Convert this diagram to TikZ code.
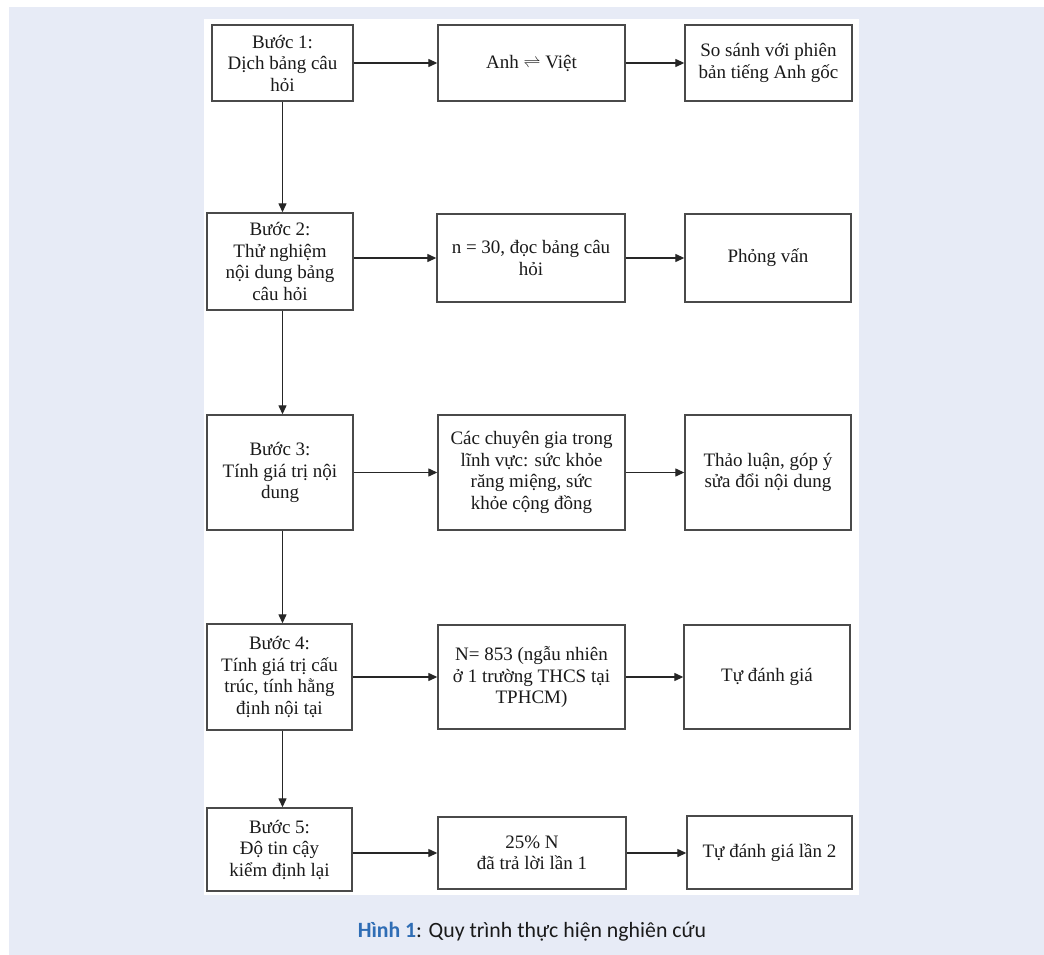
\documentclass[tikz,border=0pt]{standalone}
\usepackage{fontspec}
\setmainfont{Liberation Serif}
\newfontfamily\capfont{Carlito}
\usetikzlibrary{arrows.meta}
\definecolor{bgblue}{HTML}{E7EBF6}
\definecolor{capblue}{HTML}{2F6DB5}
\definecolor{boxline}{HTML}{4A4A4A}
\definecolor{txt}{HTML}{1A1A1A}
\tikzset{
  box/.style={draw=boxline, line width=1.4pt, fill=white, align=center, inner sep=0pt,
    text=txt, font=\fontsize{19}{21.5}\selectfont},
  arr/.style={draw=black!85, line width=1.3pt, -{Triangle[length=9pt,width=8pt]}}
}
\begin{document}
\begin{tikzpicture}[x=1pt,y=-1pt]
\fill[white] (0,0) rectangle (1044,955);
\fill[bgblue] (9,7) rectangle (1044,955);
\fill[white] (204,19) rectangle (859,895);
\useasboundingbox (0,0) rectangle (1044,955);

% Row 1
\node[box, minimum width=141pt, minimum height=76pt] (A1) at (282.5,63) {Bước 1:\\Dịch bảng câu\\hỏi};
\node[box, minimum width=187pt, minimum height=76pt] (B1) at (531.5,63) {Anh $\rightleftharpoons$ Việt};
\node[box, minimum width=167pt, minimum height=76pt] (C1) at (768.5,63) {So sánh với phiên\\bản tiếng Anh gốc};

% Row 2
\node[box, minimum width=146pt, minimum height=97pt] (A2) at (280,261.5) {Bước 2:\\Thử nghiệm\\nội dung bảng\\câu hỏi};
\node[box, minimum width=188pt, minimum height=88pt] (B2) at (531,258) {n = 30, đọc bảng câu\\hỏi};
\node[box, minimum width=166pt, minimum height=88pt] (C2) at (768,258) {Phỏng vấn};

% Row 3
\node[box, minimum width=146pt, minimum height=115pt] (A3) at (280,472.5) {Bước 3:\\Tính giá trị nội\\dung};
\node[box, minimum width=187pt, minimum height=115pt] (B3) at (531.5,472.5) {Các chuyên gia trong\\lĩnh vực: sức khỏe\\răng miệng, sức\\khỏe cộng đồng};
\node[box, minimum width=166pt, minimum height=115pt] (C3) at (768,472.5) {Thảo luận, góp ý\\sửa đổi nội dung};

% Row 4
\node[box, minimum width=145pt, minimum height=106pt] (A4) at (279.5,677) {Bước 4:\\Tính giá trị cấu\\trúc, tính hằng\\định nội tại};
\node[box, minimum width=187pt, minimum height=104pt] (B4) at (531.5,677) {N= 853 (ngẫu nhiên\\ở 1 trường THCS tại\\TPHCM)};
\node[box, minimum width=166pt, minimum height=104pt] (C4) at (767,677) {Tự đánh giá};

% Row 5
\node[box, minimum width=145pt, minimum height=83pt] (A5) at (279.5,849.5) {Bước 5:\\Độ tin cậy\\kiểm định lại};
\node[box, minimum width=188pt, minimum height=72pt] (B5) at (532,853) {25\% N\\đã trả lời lần 1};
\node[box, minimum width=165pt, minimum height=73pt] (C5) at (769.5,852.5) {Tự đánh giá lần 2};

% horizontal arrows
\draw[arr] (A1.east) -- (B1.west);
\draw[arr] (B1.east) -- (C1.west);
\draw[arr] (A2.east |- B2.west) -- (B2.west);
\draw[arr] (B2.east) -- (C2.west);
\draw[arr] (A3.east) -- (B3.west);
\draw[arr] (B3.east) -- (C3.west);
\draw[arr] (A4.east) -- (B4.west);
\draw[arr] (B4.east) -- (C4.west);
\draw[arr] (A5.east |- B5.west) -- (B5.west);
\draw[arr] (B5.east) -- (C5.west |- B5.east);

% vertical arrows
\draw[arr] (A1.south) -- (A1.south |- A2.north);
\draw[arr] (A1.south |- A2.south) -- (A1.south |- A3.north);
\draw[arr] (A1.south |- A3.south) -- (A1.south |- A4.north);
\draw[arr] (A1.south |- A4.south) -- (A1.south |- A5.north);

% caption
\node[font=\capfont\fontsize{21.8}{24}\selectfont, text=txt] (cap) at (532,932)
  {\textcolor{capblue}{\bfseries Hình 1}: Quy trình thực hiện nghiên cứu};
\end{tikzpicture}
\end{document}
